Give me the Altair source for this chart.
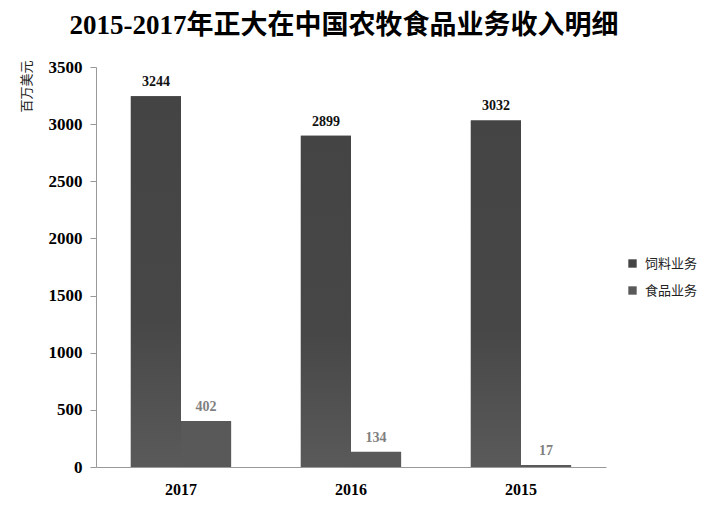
import altair as alt
import pandas as pd

years = ["2017", "2016", "2015"]
series = ["饲料业务", "食品业务"]
feed = [3244, 2899, 3032]
food = [402, 134, 17]

rows = []
for y, a, b in zip(years, feed, food):
    rows.append({"year": y, "series": series[0], "value": a})
    rows.append({"year": y, "series": series[1], "value": b})
df = pd.DataFrame(rows)

serif = "Liberation Serif, Noto Sans CJK SC"

x = alt.X("year:N", sort=years, title=None,
          scale=alt.Scale(paddingInner=0.41, paddingOuter=0.205),
          axis=alt.Axis(labelAngle=0, labelFont=serif, labelFontSize=16, labelFontWeight="bold",
                        labelColor="#000", ticks=False, domainColor="#999", labelPadding=14))
y = alt.Y("value:Q", title="百万美元",
          scale=alt.Scale(domain=[0, 3500], nice=False),
          axis=alt.Axis(values=list(range(0, 3501, 500)), format="d", grid=False, labelFont=serif,
                        labelFontSize=17, labelFontWeight="bold", labelColor="#000",
                        tickColor="#999", domainColor="#999", tickSize=6, labelPadding=8,
                        titleFont=serif, titleFontSize=13, titleFontWeight="normal",
                        titleColor="#222", titleAngle=-90, titleX=-70, titleY=-7,
                        titleAlign="right", titleBaseline="middle"))
xo = alt.XOffset("series:N", sort=series, scale=alt.Scale(paddingInner=0, paddingOuter=0))

base = alt.Chart(df)

bars = base.mark_bar().encode(
    x=x, y=y, xOffset=xo,
    color=alt.Color("series:N", sort=series,
                    scale=alt.Scale(domain=series, range=["#444444", "#595959"]),
                    legend=alt.Legend(title=None, orient="none", legendX=530, legendY=190,
                                      symbolType="square", symbolSize=70, labelFont=serif,
                                      labelFontSize=13, labelColor="#222", rowPadding=13,
                                      labelOffset=6, symbolStrokeWidth=0)),
)

grad = base.transform_filter(alt.datum.series == series[0]).mark_bar(
    fill=alt.Gradient(gradient="linear", x1=0, y1=0, x2=0, y2=1,
                      stops=[alt.GradientStop(offset=0, color="#444444"),
                             alt.GradientStop(offset=0.6, color="#474747"),
                             alt.GradientStop(offset=1, color="#5a5a5a")])
).encode(x=x, y=y, xOffset=xo)

labels = base.mark_text(dy=-14, font=serif, fontSize=14, fontWeight="bold").encode(
    x=x, y=y, xOffset=xo, text="value:Q",
    color=alt.Color("series:N", scale=alt.Scale(domain=series, range=["#111111", "#7f7f7f"]), legend=None),
)

chart = alt.layer(bars, grad, labels).resolve_scale(color="independent").properties(
    width=510, height=400,
    title=alt.Title("2015-2017年正大在中国农牧食品业务收入明细", font=serif, fontSize=27,
                    fontWeight="bold", color="#000", anchor="middle", offset=18, dx=-7),
    autosize=alt.AutoSizeParams(type="none"),
    padding={"left": 88, "top": 59, "right": 96, "bottom": 33},
).configure_view(stroke=None)

chart.save("out.html", embed_options={"renderer": "svg", "actions": False})
